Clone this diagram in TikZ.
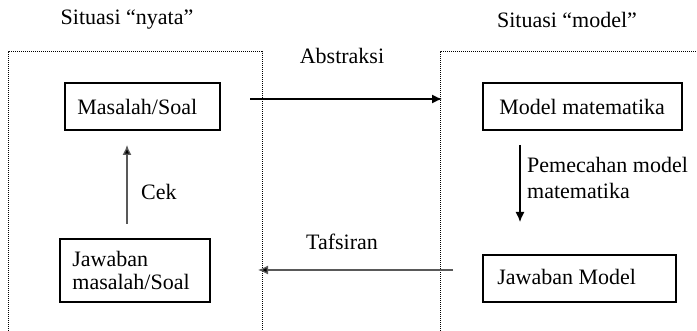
\documentclass[tikz,border=0pt]{standalone}
\usepackage{fontspec}
\setmainfont{Liberation Serif}
\usetikzlibrary{arrows.meta}
\begin{document}
\begin{tikzpicture}[x=1pt,y=-1pt,
  lbl/.style={font=\fontsize{22}{24}\selectfont, inner sep=0pt},
  txt/.style={font=\fontsize{22}{23}\selectfont, inner sep=0pt, anchor=west, align=left},
  box/.style={draw=black, line width=1.6pt, inner sep=0pt},
  frame/.style={line width=1pt, dash pattern=on 1pt off 1pt},
  arr/.style={line width=1.3pt, -{Latex[length=10pt,width=9pt]}}]
\useasboundingbox (0,0) rectangle (697,331);
% dotted frames
\draw[frame] (8,331) -- (8,52) -- (262,52) -- (262,331);
\draw[frame] (440,331) -- (440,52) -- (697,52);
% titles
\node[lbl] (tn) at (127,20) {Situasi “nyata”};
\node[lbl] (tm) at (567,20) {Situasi “model”};
% boxes
\node[box, minimum width=155pt, minimum height=47pt] (masalah) at (142.5,106.5) {};
\node[txt] (masalahT) at ([xshift=13pt]masalah.west) {Masalah/Soal};
\node[box, minimum width=199pt, minimum height=47pt] (model) at (582.5,106.5) {};
\node[txt] (modelT) at ([xshift=17pt]model.west) {Model matematika};
\node[box, minimum width=193pt, minimum height=47pt] (jm) at (579.5,278.5) {};
\node[txt] (jmT) at ([xshift=15pt,yshift=2pt]jm.west) {Jawaban Model};
\node[box, minimum width=150pt, minimum height=63pt] (js) at (135,270.5) {};
\node[txt] (jsT) at ([xshift=13pt]js.west) {Jawaban\\masalah/Soal};
% arrow end points
\coordinate (a1) at (250,99);
\coordinate (a2) at (442,99);
\coordinate (b1) at (520,145);
\coordinate (b2) at (520,222);
\coordinate (c1) at (453,270);
\coordinate (c2) at (258,270);
\coordinate (d1) at (127,224);
\coordinate (d2) at (127,145);
\draw[arr] (a1) -- (a2);
\draw[arr] (b1) -- (b2);
\draw[arr, draw=black!65, -{Latex[length=10pt,width=9pt,fill=black]}] (c1) -- (c2);
\draw[arr, draw=black!65, -{Latex[length=10pt,width=9pt,fill=black]}] (d1) -- (d2);
% labels
\node[lbl] (abs) at (342,56) {Abstraksi};
\node[lbl] (taf) at (342,242) {Tafsiran};
\node[lbl, anchor=west] (cek) at (141,192) {Cek};
\node[lbl, anchor=west, align=left, font=\fontsize{22}{26}\selectfont] (pem) at (527,178) {Pemecahan model\\matematika};
\end{tikzpicture}
\end{document}
